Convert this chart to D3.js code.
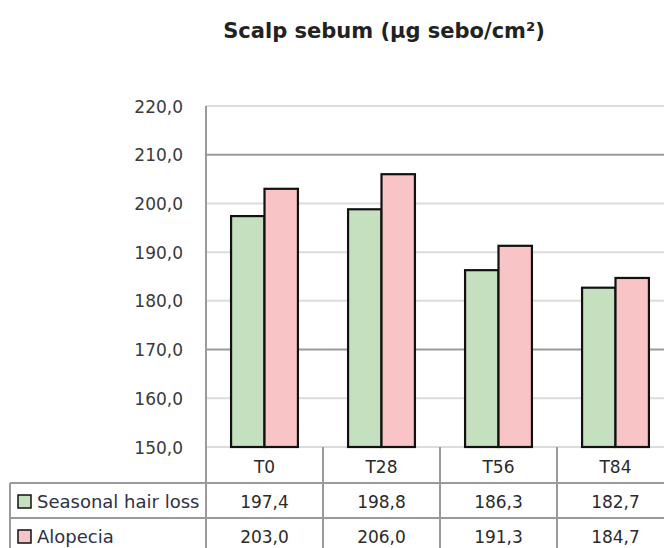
<!DOCTYPE html>
<html>
<head>
<meta charset="utf-8">
<script src="https://cdn.jsdelivr.net/npm/d3@7"></script>
<style>
  body { margin: 0; background: #fff; }
  svg { display: block; font-family: "DejaVu Sans", sans-serif; }
</style>
</head>
<body>
<svg width="664" height="548"></svg>
<script>
var categories = ["T0", "T28", "T56", "T84"];
var seriesNames = ["Seasonal hair loss", "Alopecia"];
var seasonal = [197.4, 198.8, 186.3, 182.7];
var alopecia = [203.0, 206.0, 191.3, 184.7];
var yTicks = [150, 160, 170, 180, 190, 200, 210, 220];
var colors = ["#c5e0bf", "#f8c4c6"];

var svg = d3.select("svg"),
	plotLeft = 206, bandW = 117,
	plotTop = 106, base = 447,
	rowH = [36, 35, 35];

var fmt = function(v) { return v.toFixed(1).replace(".", ","); };

var x = d3.scaleBand().domain(categories).range([plotLeft, plotLeft + bandW * categories.length]);
var xs = d3.scaleBand().domain(seriesNames).range([0, x.bandwidth()]).paddingOuter(0.75);
var y = d3.scaleLinear().domain([150, 220]).range([base, plotTop]);

var data = categories.map(function(c, i) {
	return {cat: c, vals: [seasonal[i], alopecia[i]]};
});

// title
svg.append("text")
	.attr("x", 384).attr("y", 38)
	.attr("text-anchor", "middle")
	.style("font-size", "21px").style("font-weight", "bold").style("fill", "#222")
	.text("Scalp sebum (\u00b5g sebo/cm\u00b2)");

// gridlines
svg.append("g").selectAll("line")
	.data(yTicks)
	.enter().append("line")
	.attr("x1", plotLeft).attr("x2", 664)
	.attr("y1", function(d) { return y(d); })
	.attr("y2", function(d) { return y(d); })
	.style("stroke", function(d) { return (d == 210 || d == 170) ? "#9a9a9a" : "#dcdcdc"; })
	.style("stroke-width", 2);

// y axis
var yAxis = svg.append("g")
	.attr("transform", "translate(" + plotLeft + ",0)")
	.call(d3.axisLeft(y).tickValues(yTicks).tickSize(0).tickPadding(23).tickFormat(fmt));
yAxis.select(".domain").remove();
yAxis.selectAll("text").style("font-size", "17px").style("fill", "#3a3a3a").attr("dy", "0.36em")
	.style("font-family", "DejaVu Sans");

// bars
var groups = svg.append("g").selectAll("g")
	.data(data)
	.enter().append("g")
	.attr("transform", function(d) { return "translate(" + x(d.cat) + ",0)"; });

groups.selectAll("rect")
	.data(function(d) { return d.vals.map(function(v, i) { return {s: seriesNames[i], v: v, i: i}; }); })
	.enter().append("rect")
	.attr("x", function(d) { return xs(d.s); })
	.attr("y", function(d) { return y(d.v); })
	.attr("width", xs.bandwidth())
	.attr("height", function(d) { return base - y(d.v); })
	.style("fill", function(d) { return colors[d.i]; })
	.style("stroke", "#111")
	.style("stroke-width", 2.2);

// data table
var rowY = [base, base + rowH[0], base + rowH[0] + rowH[1], base + rowH[0] + rowH[1] + rowH[2]];
var tbl = svg.append("g").style("stroke", "#9a9a9a").style("stroke-width", 2);

tbl.append("line").attr("x1", plotLeft).attr("x2", plotLeft).attr("y1", plotTop).attr("y2", 548);
tbl.append("line").attr("x1", 10).attr("x2", 10).attr("y1", rowY[1]).attr("y2", 548);
tbl.selectAll(".hl")
	.data([rowY[1], rowY[2]])
	.enter().append("line")
	.attr("x1", 10).attr("x2", 664)
	.attr("y1", function(d) { return d; }).attr("y2", function(d) { return d; });
tbl.selectAll(".vl")
	.data(categories)
	.enter().append("line")
	.attr("x1", function(d) { return x(d) + x.bandwidth(); })
	.attr("x2", function(d) { return x(d) + x.bandwidth(); })
	.attr("y1", base).attr("y2", 548);

svg.append("g").selectAll("text")
	.data(categories)
	.enter().append("text")
	.attr("x", function(d) { return x(d) + x.bandwidth() / 2; })
	.attr("y", rowY[0] + 26)
	.attr("text-anchor", "middle")
	.style("font-size", "17px").style("fill", "#2a2a2a")
	.text(function(d) { return d; });

[seasonal, alopecia].forEach(function(vals, r) {
	var cy = rowY[r + 1];
	svg.append("rect")
		.attr("x", 18).attr("y", cy + 12)
		.attr("width", 13).attr("height", 13)
		.style("fill", colors[r]).style("stroke", "#111").style("stroke-width", 1.5);
	svg.append("text")
		.attr("x", 37).attr("y", cy + 25)
		.style("font-size", "18px").style("fill", "#2d3148")
		.text(seriesNames[r]);
	svg.append("g").selectAll("text")
		.data(vals)
		.enter().append("text")
		.attr("x", function(d, i) { return x(categories[i]) + x.bandwidth() / 2; })
		.attr("y", cy + 25)
		.attr("text-anchor", "middle")
		.style("font-size", "17px").style("fill", "#2a2a2a")
		.text(fmt);
});
</script>
</body>
</html>
